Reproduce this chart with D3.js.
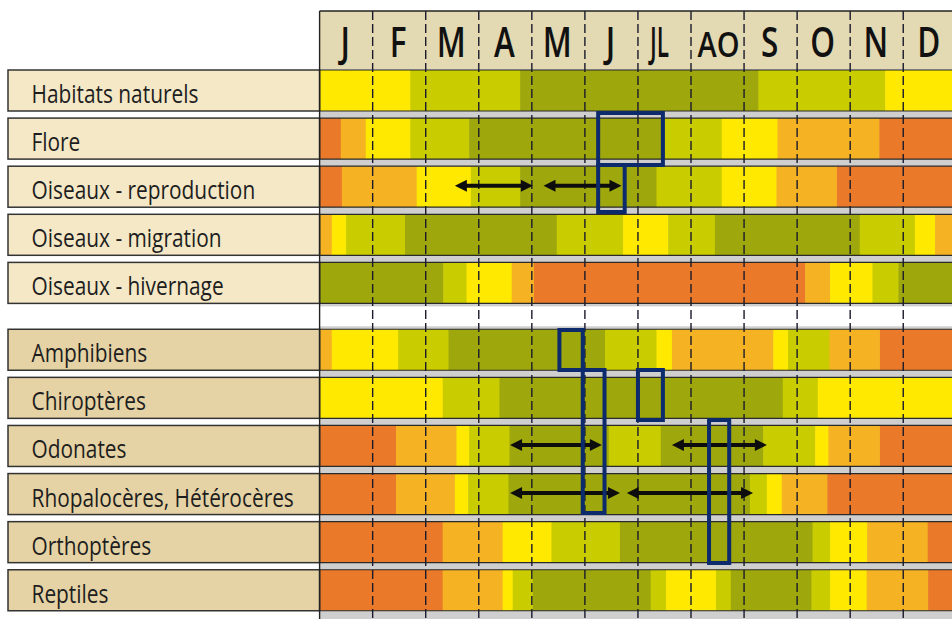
<!DOCTYPE html>
<html><head><meta charset="utf-8">
<script src="https://cdn.jsdelivr.net/npm/d3@7/dist/d3.min.js"></script>
<style>html,body{margin:0;padding:0;background:#fff;}svg{display:block;}</style>
</head><body>
<script>
// ---- data ----
const months = ["J","F","M","A","M","J","JL","AO","S","O","N","D"];
const rowLabels = ["Habitats naturels","Flore","Oiseaux - reproduction","Oiseaux - migration","Oiseaux - hivernage",
  "Amphibiens","Chiroptères","Odonates","Rhopalocères, Hétérocères","Orthoptères","Reptiles"];
// levels: 0 orange-red, 1 orange, 2 yellow, 3 lime, 4 olive
const levelColors = ["#ea7a2a","#f5b324","#ffe900","#c9cd00","#9ea70c"];
// each segment: [end month, level] (starts at previous end)
const segHabitats   = [[1.71,2],[3.78,3],[8.27,4],[10.66,3],[12,2]];
const segFlore      = [[0.40,0],[0.87,1],[1.71,2],[2.82,3],[6.51,4],[7.58,3],[8.63,2],[10.55,1],[12,0]];
const segRepro      = [[0.42,0],[1.83,1],[2.85,2],[3.78,3],[6.35,4],[7.58,3],[8.61,2],[9.75,1],[12,0]];
const segMigration  = [[0.23,1],[0.50,2],[1.61,3],[4.47,4],[5.72,3],[6.57,2],[7.45,3],[10.18,4],[11.22,3],[11.60,2],[12,1]];
const segHivernage  = [[2.33,4],[2.77,3],[3.62,2],[4.04,1],[9.15,0],[9.62,1],[10.42,2],[10.91,3],[12,4]];
const segAmphibiens = [[0.23,1],[1.48,2],[2.43,3],[5.38,4],[6.35,3],[6.64,2],[8.55,1],[8.83,2],[9.61,3],[10.56,1],[12,0]];
const segChiro      = [[2.32,2],[3.39,3],[8.73,4],[9.39,3],[12,2]];
const segOdonates   = [[1.44,0],[2.58,1],[2.82,2],[3.58,3],[5.45,4],[6.43,3],[8.36,4],[9.34,3],[9.59,2],[10.56,1],[12,0]];
const segRhopalo    = [[1.44,0],[2.55,1],[2.80,2],[3.56,3],[8.11,4],[8.43,3],[8.71,2],[9.57,1],[12,0]];
const segOrtho      = [[2.32,0],[3.45,1],[4.37,2],[5.66,3],[9.29,4],[9.62,3],[10.32,2],[11.46,1],[12,0]];
const segReptiles   = [[2.32,0],[3.45,1],[3.64,2],[4.02,3],[6.24,4],[6.53,3],[7.47,2],[7.75,3],[9.27,4],[9.62,3],[10.31,2],[11.47,1],[12,0]];
const rowSegments = [segHabitats,segFlore,segRepro,segMigration,segHivernage,segAmphibiens,segChiro,segOdonates,segRhopalo,segOrtho,segReptiles];
// double arrows: row index, from month, to month
const arrowRows  = [2,2,7,7,8,8];
const arrowFrom  = [2.55,4.22,3.59,6.64,3.59,5.79];
const arrowTo    = [4.02,5.69,5.32,8.43,5.66,8.17];
// highlight boxes in month units (x) and row-slot units (y)
const boxM0 = [5.25,5.25,4.52,4.96,6.00,7.34];
const boxM1 = [6.47,5.75,4.96,5.37,6.47,7.72];
const boxS0 = [0.894,1.975,5.405,6.237,6.237,7.277];
const boxS1 = [1.975,2.952,6.237,9.210,7.277,10.249];

// ---- layout ----
const W = 952, H = 619;
const svg = d3.select("body").append("svg").attr("width",W).attr("height",H);
const x = d3.scaleLinear().domain([0,12]).range([319.6,956.3]);
const y = d3.scaleLinear().domain([0,1]).range([70,118.1]);
const groupGap = 0.39;
const slot = i => i + (i>=5 ? groupGap : 0);
const rowH = 41;
const labelLeft = 8;
const headTop = 11, headBottom = 68;

// gray backgrounds
svg.append("rect").attr("x",x(0)).attr("y",headBottom).attr("width",W-x(0))
  .attr("height",y(slot(4))+rowH+3-headBottom).attr("fill","#cfcfcf");
svg.append("rect").attr("x",x(0)).attr("y",y(slot(5))-3).attr("width",W-x(0))
  .attr("height",H-(y(slot(5))-3)).attr("fill","#cfcfcf");

// header
svg.append("rect").attr("x",x(0)).attr("y",headTop).attr("width",W-x(0))
  .attr("height",headBottom-headTop+1).attr("fill","#e3d9b2");

// segments
rowSegments.forEach((segs,i)=>{
  let start = 0;
  const g = svg.append("g");
  segs.forEach(([end,lvl])=>{
    g.append("rect").attr("x",x(start)).attr("y",y(slot(i)))
      .attr("width",x(end)-x(start)+0.5).attr("height",rowH)
      .attr("fill",levelColors[lvl]);
    start = end;
  });
});

// row lines across grid
rowLabels.forEach((lab,i)=>{
  [y(slot(i)), y(slot(i))+rowH].forEach(yy=>{
    svg.append("line").attr("x1",x(0)).attr("x2",W).attr("y1",yy).attr("y2",yy)
      .attr("stroke","#2a2a2a").attr("stroke-width",1.2);
  });
});

// label boxes
const labelG = svg.append("g");
rowLabels.forEach((lab,i)=>{
  labelG.append("rect").attr("x",labelLeft).attr("y",y(slot(i)))
    .attr("width",x(0)-labelLeft).attr("height",rowH)
    .attr("fill", i<5 ? "#f4e8c7" : "#e6d3a5")
    .attr("stroke","#333").attr("stroke-width",1.5);
});
const fontFam = "'Open Sans', 'DejaVu Sans', sans-serif";
const probe = svg.append("text").attr("font-family",fontFam).attr("font-size",26).text(rowLabels[0]);
const labScale = 167 / probe.node().getComputedTextLength();
probe.remove();
rowLabels.forEach((lab,i)=>{
  labelG.append("text")
    .attr("transform",`translate(31.5,${y(slot(i))+33}) scale(${labScale},1)`)
    .attr("font-family",fontFam).attr("font-size",26).attr("fill","#1e1e1e")
    .text(lab);
});

// dashed month dividers
d3.range(1,12).forEach(m=>{
  svg.append("line").attr("x1",x(m)).attr("x2",x(m)).attr("y1",headTop).attr("y2",H)
    .attr("stroke","#1a1a2c").attr("stroke-width",1.4).attr("stroke-dasharray","9,4");
});
// borders
svg.append("line").attr("x1",x(0)).attr("x2",W).attr("y1",headTop).attr("y2",headTop)
  .attr("stroke","#222").attr("stroke-width",1.6);
svg.append("line").attr("x1",x(0)).attr("x2",x(0)).attr("y1",headTop).attr("y2",H)
  .attr("stroke","#222").attr("stroke-width",1.4);

// month labels
const probeM = svg.append("text").attr("font-family",fontFam).attr("font-size",42).attr("font-weight",600).text("M");
const mScale = 29 / probeM.node().getComputedTextLength();
probeM.remove();
months.forEach((m,i)=>{
  const cx = (x(i)+x(i+1))/2;
  const t = svg.append("text").attr("font-family",fontFam).attr("font-weight",600).attr("fill","#111")
    .attr("text-anchor","middle").text(m);
  if (m.length === 1) {
    t.attr("font-size",42).attr("transform",`translate(${cx-1},57) scale(${mScale},1)`);
  } else if (m === "JL") {
    t.attr("font-size",42).attr("x",cx-5).attr("y",57)
      .attr("textLength",19).attr("lengthAdjust","spacingAndGlyphs");
  } else {
    t.attr("font-size",35).attr("x",cx+1).attr("y",57)
      .attr("textLength",42).attr("lengthAdjust","spacingAndGlyphs");
  }
});

// arrows
const headL = 12, headW = 6;
arrowRows.forEach((r,k)=>{
  const yy = y(slot(r)) + rowH/2 - 1;
  const x0 = x(arrowFrom[k]), x1 = x(arrowTo[k]);
  svg.append("line").attr("x1",x0+headL-2).attr("x2",x1-headL+2).attr("y1",yy).attr("y2",yy)
    .attr("stroke","#0d0d0d").attr("stroke-width",4);
  svg.append("path").attr("d",`M${x0},${yy}L${x0+headL},${yy-headW}L${x0+headL},${yy+headW}Z`).attr("fill","#0d0d0d");
  svg.append("path").attr("d",`M${x1},${yy}L${x1-headL},${yy-headW}L${x1-headL},${yy+headW}Z`).attr("fill","#0d0d0d");
});

// highlight boxes
boxM0.forEach((m0,k)=>{
  svg.append("rect").attr("x",x(m0)).attr("y",y(boxS0[k]))
    .attr("width",x(boxM1[k])-x(m0)).attr("height",y(boxS1[k])-y(boxS0[k]))
    .attr("fill","none").attr("stroke","#0c2a6c").attr("stroke-width",4);
});
</script>
</body></html>
